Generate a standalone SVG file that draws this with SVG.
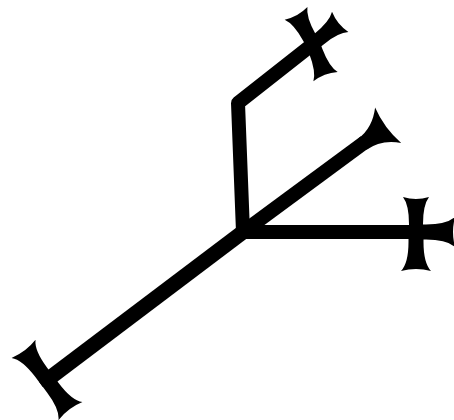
<svg xmlns="http://www.w3.org/2000/svg" xmlns:xlink="http://www.w3.org/1999/xlink" width="454" height="420" viewBox="0 0 454 420">
  <style>
    .ln { fill: none; stroke: #000; stroke-width: 14; stroke-linejoin: round; stroke-linecap: butt; }
    .thick { stroke-width: 15; }
    .fl { fill: #000; stroke: none; }
  </style>
  <defs>
    <path id="arm" class="fl" d="M-3,-7 H8 Q27,-7 35,-13 Q31,0 35,13 Q27,7 8,7 H-3 Z"/>
    <path id="armL" class="fl" d="M-3,-7.5 H10 Q31,-7.5 39,-15 Q35,0 39,15 Q31,7.5 10,7.5 H-3 Z"/>
    <path id="tri" class="fl" d="M-2,-7 Q16,-7 30,-22 Q25,0 30,22 Q16,7 -2,7 Z"/>
  </defs>
  <rect width="454" height="420" fill="#fff"/>
  <g id="connectors">
    <path class="ln thick" d="M243,232 L47,380"/>
    <path class="ln" d="M243,232 L238,103 L313,44"/>
    <path class="ln" d="M243,232 L416,232"/>
    <path class="ln" d="M243,232 L365,142"/>
  </g>
  <g id="lower-left-cross">
    <use xlink:href="#armL" transform="translate(47,380) rotate(-127)"/>
    <use xlink:href="#armL" transform="translate(47,380) rotate(53)"/>
  </g>
  <g id="upper-cross">
    <use xlink:href="#arm" transform="translate(313,44) rotate(-119)"/>
    <use xlink:href="#arm" transform="translate(313,44) rotate(69)"/>
    <use xlink:href="#arm" transform="translate(313,44) rotate(-39)"/>
  </g>
  <g id="right-cross">
    <use xlink:href="#arm" transform="translate(416,232) rotate(-90)"/>
    <use xlink:href="#armL" transform="translate(416,232) rotate(90)"/>
    <use xlink:href="#armL" transform="translate(416,232) rotate(0)"/>
  </g>
  <g id="diagonal-end">
    <use xlink:href="#tri" transform="translate(364,143) rotate(-36.4)"/>
  </g>
</svg>
